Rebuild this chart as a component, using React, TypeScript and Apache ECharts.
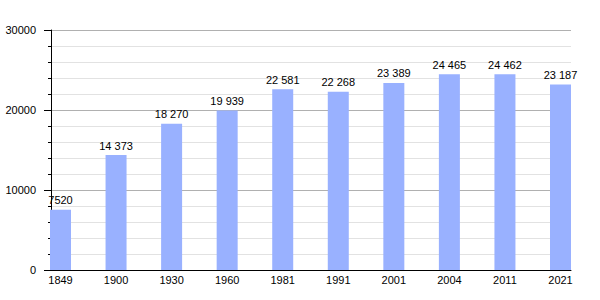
import React, { useEffect, useRef } from "react";
import * as echarts from "echarts";

const years = ["1849", "1900", "1930", "1960", "1981", "1991", "2001", "2004", "2011", "2021"];
const population = [7520, 14373, 18270, 19939, 22581, 22268, 23389, 24465, 24462, 23187];
const yMin = 0;
const yMax = 30000;
const yStep = 10000;

function fmt(v: number): string {
  const s = String(Math.round(v));
  if (s.length <= 4) return s;
  return s.replace(/\B(?=(\d{3})+(?!\d))/g, " ");
}

export default function App() {
  const ref = useRef<HTMLDivElement>(null);
  useEffect(() => {
    if (!ref.current) return;
    const chart = echarts.init(ref.current, null, { renderer: "svg" });
    const font = "'Liberation Sans', Arial, sans-serif";
    chart.setOption({
      animation: false,
      backgroundColor: "#ffffff",
      textStyle: { fontFamily: font },
      grid: [
        { left: 51, right: 29, top: 30, bottom: 30 },
        { left: 60.5, right: 39.5, top: 30, bottom: 30 },
      ],
      xAxis: [
        {
          type: "value",
          gridIndex: 0,
          min: 0,
          max: 1,
          axisLine: { show: true, lineStyle: { color: "#000", width: 1 } },
          axisTick: { show: false },
          axisLabel: { show: false },
          splitLine: { show: false },
        },
        {
          type: "category",
          gridIndex: 1,
          data: years,
          boundaryGap: false,
          axisLine: { show: false },
          axisTick: { show: false },
          splitLine: { show: false },
          axisLabel: { color: "#000", fontSize: 11, margin: 4, fontFamily: font, interval: 0 },
        },
      ],
      yAxis: [
        {
          type: "value",
          gridIndex: 0,
          min: yMin,
          max: yMax,
          interval: yStep,
          axisLine: { show: true, lineStyle: { color: "#000", width: 1 } },
          axisTick: { show: true, inside: false, length: 7, lineStyle: { color: "#000" } },
          minorTick: { show: true, splitNumber: 5, length: 3, lineStyle: { color: "#000" } },
          splitLine: { show: true, lineStyle: { color: "#b0b0b0", width: 1 } },
          minorSplitLine: { show: true, lineStyle: { color: "#e2e2e2", width: 1 } },
          axisLabel: {
            color: "#000",
            fontSize: 11,
            margin: 15,
            fontFamily: font,
            formatter: (v: number) => String(v),
          },
        },
        {
          type: "value",
          gridIndex: 1,
          min: yMin,
          max: yMax,
          show: false,
          splitLine: { show: false },
        },
      ],
      series: [
        {
          type: "bar",
          xAxisIndex: 1,
          yAxisIndex: 1,
          data: population,
          barWidth: 21,
          itemStyle: { color: "#99b1ff" },
          label: {
            show: true,
            position: "top",
            distance: 4,
            color: "#000",
            fontSize: 11,
            fontFamily: font,
            formatter: (p: any) => fmt(p.value),
          },
        },
      ],
    });
    return () => chart.dispose();
  }, []);
  return (
    <div
      ref={ref}
      style={{ position: "fixed", left: 0, top: 0, width: 600, height: 300 }}
    />
  );
}
